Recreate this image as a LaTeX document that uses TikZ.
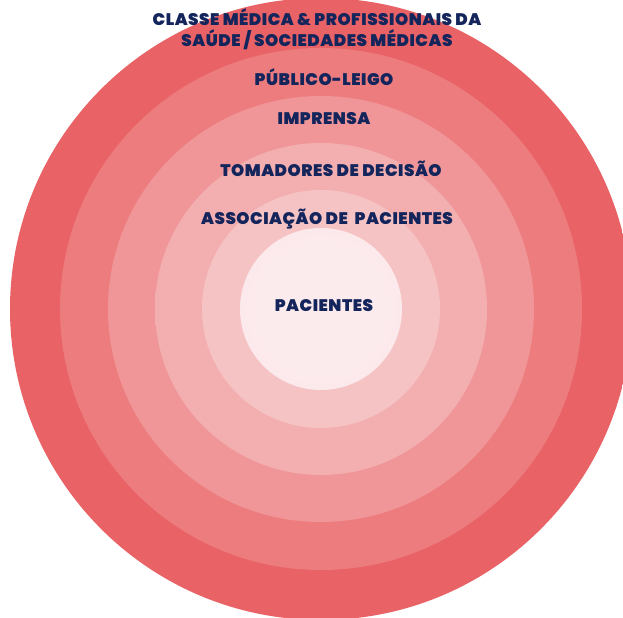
\documentclass[tikz,border=0pt]{standalone}
\usepackage{fontspec}
\setmainfont{Poppins}[BoldFont=* Black, BoldFeatures={LetterSpace=3}]
\definecolor{navy}{HTML}{14255C}
\definecolor{r1o}{HTML}{E4545A}\definecolor{r1i}{HTML}{E86266}
\definecolor{r2o}{HTML}{EA6D70}\definecolor{r2i}{HTML}{ED7C7E}
\definecolor{r3o}{HTML}{ED8789}\definecolor{r3i}{HTML}{F09698}
\definecolor{r4o}{HTML}{F0A0A2}\definecolor{r4i}{HTML}{F3AEB0}
\definecolor{r5o}{HTML}{F3B3B5}\definecolor{r5i}{HTML}{F6C3C5}
\definecolor{r6o}{HTML}{F9DCDF}\definecolor{r6i}{HTML}{FCEBED}
\pgfdeclareradialshading{ringA}{\pgfpoint{0bp}{0bp}}{color(0bp)=(r1i); color(41bp)=(r1i); color(50bp)=(r1o)}
\pgfdeclareradialshading{ringB}{\pgfpoint{0bp}{0bp}}{color(0bp)=(r2i); color(40bp)=(r2i); color(50bp)=(r2o)}
\pgfdeclareradialshading{ringC}{\pgfpoint{0bp}{0bp}}{color(0bp)=(r3i); color(38bp)=(r3i); color(50bp)=(r3o)}
\pgfdeclareradialshading{ringD}{\pgfpoint{0bp}{0bp}}{color(0bp)=(r4i); color(35bp)=(r4i); color(50bp)=(r4o)}
\pgfdeclareradialshading{ringE}{\pgfpoint{0bp}{0bp}}{color(0bp)=(r5i); color(33bp)=(r5i); color(50bp)=(r5o)}
\pgfdeclareradialshading{ringF}{\pgfpoint{0bp}{0bp}}{color(0bp)=(r6i); color(20bp)=(r6i); color(50bp)=(r6o)}
\tikzset{
  lbl/.style={text=navy, font=\fontsize{16.8}{21}\selectfont\bfseries, align=center, inner sep=0pt},
}
\begin{document}
\begin{tikzpicture}[x=1bp,y=-1bp]
\useasboundingbox (0,0) rectangle (623,618);
\clip (0,0) rectangle (623,618);
\coordinate (c) at (321,309);
\shade[shading=ringA] (c) circle[radius=311bp];
\shade[shading=ringB] (c) circle[radius=261bp];
\shade[shading=ringC] (c) circle[radius=213bp];
\shade[shading=ringD] (c) circle[radius=166bp];
\shade[shading=ringE] (c) circle[radius=119bp];
\shade[shading=ringF] (c) circle[radius=81bp];
\node[lbl] (classe) at (317,29) {CLASSE MÉDICA \& PROFISSIONAIS DA\\SAÚDE / SOCIEDADES MÉDICAS};
\node[lbl] (publico) at (324,77) {PÚBLICO-LEIGO};
\node[lbl] (imprensa) at (324,119) {IMPRENSA};
\node[lbl] (tomadores) at (331,169) {TOMADORES DE DECISÃO};
\node[lbl] (assoc) at (327,219) {ASSOCIAÇÃO DE\ \ PACIENTES};
\node[lbl] (pacientes) at (324,306) {PACIENTES};
\end{tikzpicture}
\end{document}
